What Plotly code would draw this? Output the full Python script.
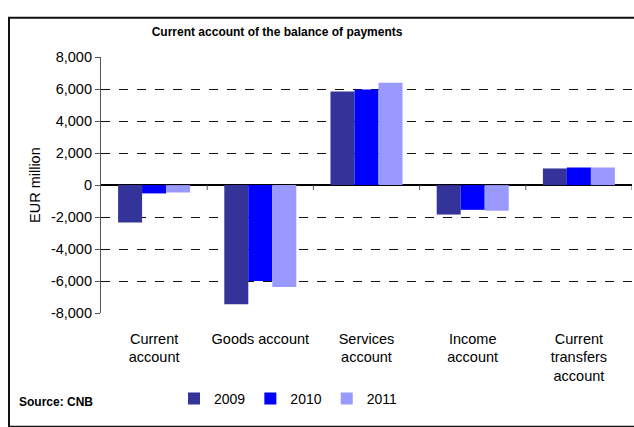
import plotly.graph_objects as go

# Current account components, EUR million
categories = ["Current<br>account", "Goods account", "Services<br>account",
              "Income<br>account", "Current<br>transfers<br>account"]
years = ["2009", "2010", "2011"]
values_2009 = [-2330, -7440, 5850, -1840, 1040]
values_2010 = [-520, -6000, 5970, -1545, 1100]
values_2011 = [-460, -6360, 6390, -1600, 1100]
series = [values_2009, values_2010, values_2011]
colors = ["#333399", "#0000FF", "#9999FF"]

y_ticks = [-8000, -6000, -4000, -2000, 0, 2000, 4000, 6000, 8000]
y_ticktext = [f"{v:,}" for v in y_ticks]  # plain hyphen for negatives

FONT = "Liberation Sans, Arial, sans-serif"
W, H = 634, 427


def px_x(px):
    """Horizontal pixel position -> paper fraction (paper = whole page)."""
    return px / W


def px_y(py):
    """Vertical pixel position (from top) -> paper fraction."""
    return 1 - py / H


fig = go.Figure()
for name, vals, col in zip(years, series, colors):
    fig.add_trace(go.Bar(x=categories, y=vals, name=name,
                         marker=dict(color=col, line=dict(width=0))))

fig.update_layout(
    width=W, height=H,
    margin=dict(l=0, r=0, t=0, b=0),
    paper_bgcolor="white", plot_bgcolor="white",
    font=dict(family=FONT, size=14.5, color="#000"),
    barmode="group", bargap=0.322, bargroupgap=0,
    title=dict(text="<b>Current account of the balance of payments</b>",
               x=0.437, xanchor="center", y=1 - 32 / H, yanchor="middle",
               font=dict(family=FONT, size=12, color="#000")),
    # invisible ticks push the category labels down from the plot edge
    xaxis=dict(type="category", range=[-0.5, 4.5],
               domain=[px_x(101), px_x(632)], showline=False,
               ticks="outside", ticklen=12, tickcolor="rgba(0,0,0,0)",
               showgrid=False, zeroline=False, tickfont=dict(size=14.5)),
    yaxis=dict(range=[-8000, 8000], domain=[px_y(317), px_y(51)],
               tickvals=y_ticks, ticktext=y_ticktext,
               showgrid=True, gridcolor="#111", gridwidth=1, griddash="dash",
               zeroline=True, zerolinecolor="#000", zerolinewidth=1.5,
               showline=True, linecolor="#555", linewidth=1.2,
               ticks="outside", ticklen=5, tickcolor="#555",
               tickfont=dict(size=14.5),
               title=dict(text="EUR million", standoff=6,
                          font=dict(family=FONT, size=14.5))),
    legend=dict(orientation="h", x=px_x(174), xanchor="left",
                y=px_y(406), yanchor="middle",
                font=dict(size=14), bgcolor="rgba(0,0,0,0)"),
    showlegend=True,
)

fig.add_annotation(text="<b>Source: CNB</b>", xref="paper", yref="paper",
                   x=px_x(17), xanchor="left",
                   y=px_y(409), yanchor="middle", showarrow=False,
                   font=dict(family=FONT, size=12, color="#000"))

# small category-boundary ticks hanging below the zero line
for i in range(len(categories)):
    fig.add_shape(type="line", xref="x", yref="y", ysizemode="pixel", yanchor=0,
                  x0=i + 0.5, x1=i + 0.5, y0=0, y1=-5,
                  line=dict(color="#555", width=1))

# outer frame of the chart (left and top edges fall inside the page)
fig.add_shape(type="rect", xref="paper", yref="paper",
              x0=px_x(9), x1=px_x(642), y0=px_y(435), y1=px_y(10),
              line=dict(color="#111", width=2))

fig.write_html("out.html")
